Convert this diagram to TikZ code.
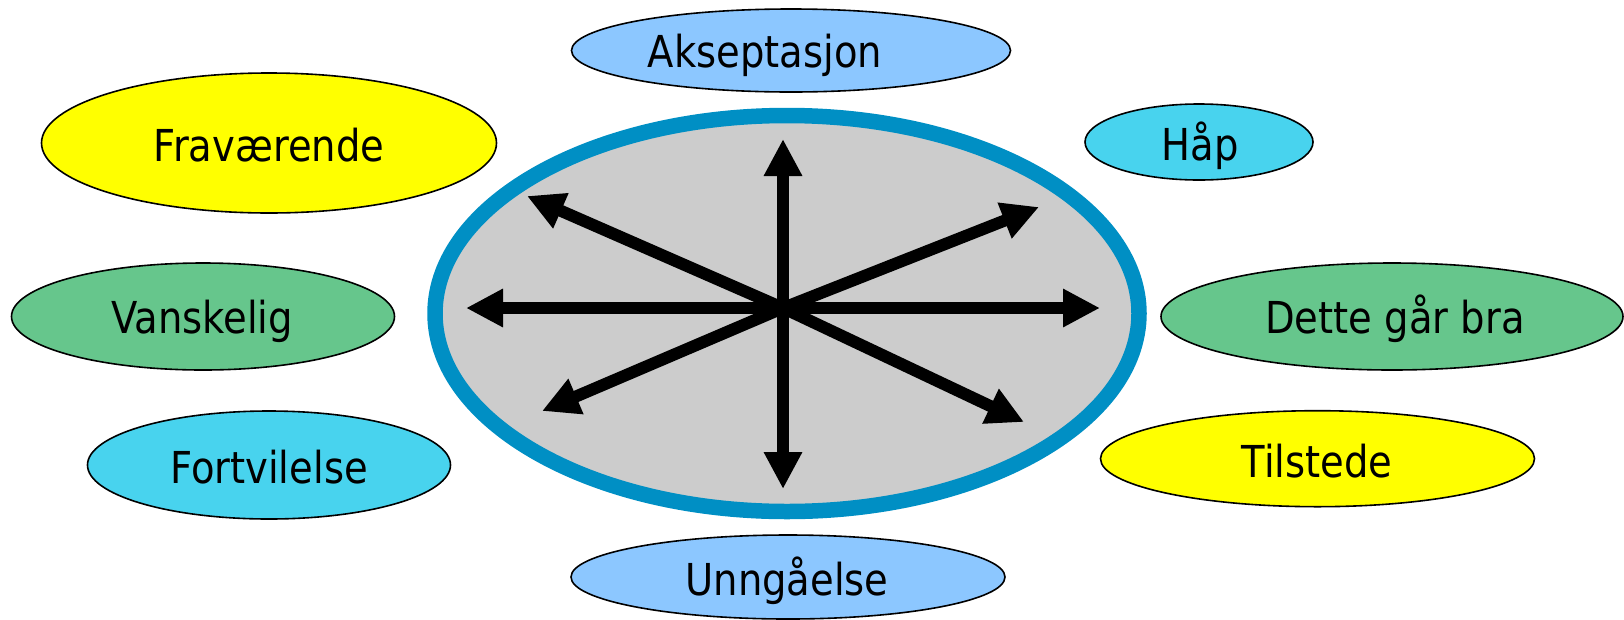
\documentclass[tikz,border=0pt]{standalone}
\usepackage{fontspec}
\setmainfont{DejaVu Sans}[FakeStretch=0.875]
\usetikzlibrary{shapes.geometric,arrows.meta}
\definecolor{cYellow}{HTML}{FFFF00}
\definecolor{cGreen}{HTML}{66C68C}
\definecolor{cCyan}{HTML}{48D3EE}
\definecolor{cLight}{HTML}{8CC7FF}
\definecolor{cGray}{HTML}{CCCCCC}
\definecolor{cRing}{HTML}{008FC4}
\begin{document}
\begin{tikzpicture}[x=1pt,y=-1pt,
  bubble/.style={ellipse, draw=black, line width=1.6pt, inner sep=0pt},
  lbl/.style={anchor=base, inner sep=0pt, font=\fontsize{44pt}{50pt}\selectfont},
  core/.style={ellipse, draw=cRing, fill=cGray, line width=15.5pt, inner sep=0pt},
  arr/.style={line width=12pt, -{Triangle[length=37pt,width=36pt]}}
]
\useasboundingbox (0,0) rectangle (1624,619);

% outer bubbles
\node[bubble, fill=cLight, minimum width=439pt, minimum height=83pt] (akse) at (791,50.5) {};
\node[bubble, fill=cYellow, minimum width=455pt, minimum height=140pt] (frav) at (269,143) {};
\node[bubble, fill=cCyan, minimum width=228pt, minimum height=76pt] (haap) at (1199,142) {};
\node[bubble, fill=cGreen, minimum width=383pt, minimum height=107pt] (vansk) at (203,316.5) {};
\node[bubble, fill=cGreen, minimum width=462pt, minimum height=107pt] (dette) at (1392,316.5) {};
\node[bubble, fill=cCyan, minimum width=363pt, minimum height=108pt] (fortv) at (269,465) {};
\node[bubble, fill=cYellow, minimum width=434pt, minimum height=96pt] (tilst) at (1317.5,458.7) {};
\node[bubble, fill=cLight, minimum width=434pt, minimum height=84pt] (unng) at (788,577) {};

% labels
\node[lbl] (akse-t) at (765,67) {Akseptasjon};
\node[lbl] (frav-t) at (269,161) {Fraværende};
\node[lbl] (haap-t) at (1200,160) {Håp};
\node[lbl] (vansk-t) at (202,333) {Vanskelig};
\node[lbl] (dette-t) at (1395,333) {Dette går bra};
\node[lbl] (fortv-t) at (269,483) {Fortvilelse};
\node[lbl] (tilst-t) at (1317,477) {Tilstede};
\node[lbl] (unng-t) at (787,595) {Unngåelse};

% central ellipse
\node[core, minimum width=704pt, minimum height=396pt] (kjerne) at (787,313.5) {};

% arrows
\coordinate (c) at (783,308);
\coordinate (tU) at (783,139);
\coordinate (tD) at (783,489);
\coordinate (tL) at (466,308);
\coordinate (tR) at (1100,308);
\coordinate (tUL) at (527,196);
\coordinate (tUR) at (1039,207);
\coordinate (tDL) at (542,411);
\coordinate (tDR) at (1024,422);
\foreach \t in {tU,tD,tL,tR,tUL,tUR,tDL,tDR}
  \draw[arr] (c) -- (\t);
\end{tikzpicture}
\end{document}
